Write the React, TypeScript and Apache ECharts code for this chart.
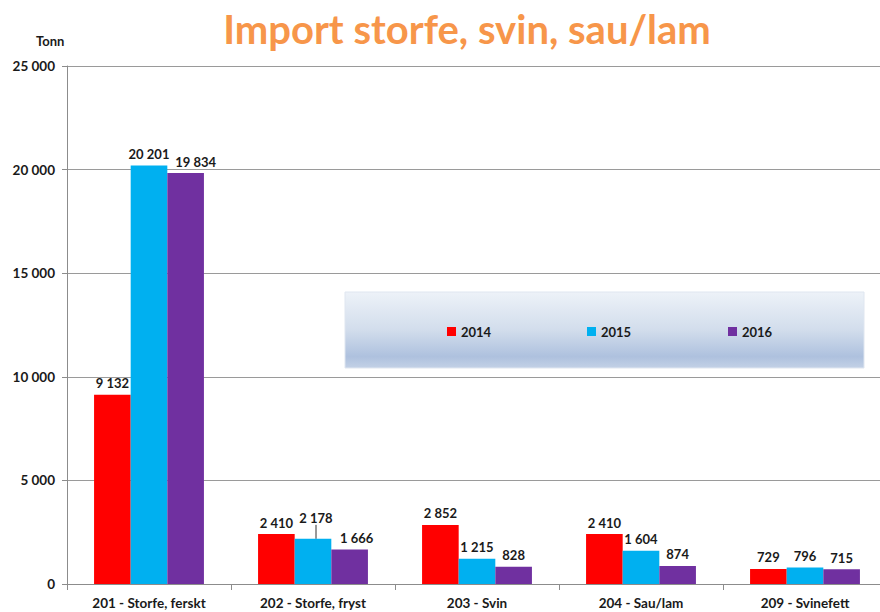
import React, { useEffect, useRef } from "react";
import * as echarts from "echarts";

const categories = [
  "201 - Storfe, ferskt",
  "202 - Storfe, fryst",
  "203 - Svin",
  "204 - Sau/lam",
  "209 - Svinefett",
];
const years = ["2014", "2015", "2016"];
const values2014 = [9132, 2410, 2852, 2410, 729];
const values2015 = [20201, 2178, 1215, 1604, 796];
const values2016 = [19834, 1666, 828, 874, 715];
const colors = ["#FF0000", "#00B0F0", "#7030A0"];
const yTicks = { min: 0, max: 25000, interval: 5000 };

const FONT = "Lato, 'Open Sans', sans-serif";

function fmt(v: number): string {
  const s = String(Math.round(v));
  return s.replace(/\B(?=(\d{3})+(?!\d))/g, " ");
}

export default function App() {
  const ref = useRef<HTMLDivElement>(null);
  useEffect(() => {
    document.body.style.overflow = "hidden";
    if (!ref.current) return;
    const chart = echarts.init(ref.current, null, { renderer: "svg" });
    const seriesData = [values2014, values2015, values2016];
    const labelStyle = {
      show: true,
      position: "top" as const,
      distance: 5,
      color: "#1a1a1a",
      fontFamily: FONT,
      fontWeight: "bold" as const,
      fontSize: 13,
      formatter: (p: any) => fmt(p.value),
    };
    const legendX = [442, 582, 723];
    const layouts: any[] = [
      null,
      (p: any) => (p.dataIndex === 1 ? { dx: 3, dy: -9 } : {}),
      (p: any) =>
        p.dataIndex === 0 ? { dx: 10 } : p.dataIndex === 1 ? { dx: 7 } : {},
    ];
    chart.setOption({
      animation: false,
      backgroundColor: "#ffffff",
      title: {
        text: "Import storfe, svin, sau/lam",
        left: 462,
        textAlign: "center",
        top: 4,
        textStyle: {
          color: "#F7964A",
          fontFamily: FONT,
          fontWeight: "bold",
          fontSize: 40,
        },
      },
      graphic: [
        {
          type: "rect",
          z: 0,
          shape: { x: 345, y: 292, width: 519, height: 76 },
          style: {
            fill: new echarts.graphic.LinearGradient(0, 0, 0, 1, [
              { offset: 0, color: "#edf2f8" },
              { offset: 0.5, color: "#d2ddec" },
              { offset: 0.85, color: "#aec1de" },
              { offset: 1, color: "#c3d1e6" },
            ]),
            stroke: "#dfe6f0",
            lineWidth: 1,
          },
        },
        {
          type: "text",
          left: 36,
          top: 34,
          style: {
            text: "Tonn",
            fill: "#1a1a1a",
            font: `bold 13px ${FONT}`,
          },
        },
      ],
      legend: years.map((y, i) => ({
        data: [y],
        left: legendX[i],
        top: 320,
        itemWidth: 9,
        itemHeight: 9,
        itemGap: 0,
        icon: "rect",
        textStyle: {
          color: "#1a1a1a",
          fontFamily: FONT,
          fontWeight: "bold",
          fontSize: 13,
        },
        z: 10,
      })),
      grid: { left: 67, top: 66, bottom: 28, width: 820, containLabel: false },
      xAxis: {
        type: "category",
        data: categories,
        axisLine: { lineStyle: { color: "#8c8c8c", width: 1 } },
        axisTick: { show: true, length: 6, lineStyle: { color: "#8c8c8c" } },
        axisLabel: {
          color: "#1a1a1a",
          fontFamily: FONT,
          fontWeight: "bold",
          fontSize: 13.5,
          margin: 12,
        },
      },
      yAxis: {
        type: "value",
        min: yTicks.min,
        max: yTicks.max,
        interval: yTicks.interval,
        axisLine: { show: true, lineStyle: { color: "#8c8c8c" } },
        axisTick: { show: true, length: 5, lineStyle: { color: "#8c8c8c" } },
        splitLine: { lineStyle: { color: "#9a9a9a", width: 1 } },
        axisLabel: {
          color: "#1a1a1a",
          fontFamily: FONT,
          fontWeight: "bold",
          fontSize: 13.5,
          margin: 12,
          formatter: (v: number) => fmt(v),
        },
      },
      series: years.map((y, i) => ({
        name: y,
        type: "bar",
        barGap: "0%",
        barCategoryGap: "33%",
        itemStyle: { color: colors[i] },
        label: labelStyle,
        labelLine: { show: false, lineStyle: { color: "#333", width: 1 } },
        labelLayout: layouts[i] || undefined,
        data: seriesData[i].map((v, j) =>
          i === 1 && j === 1
            ? { value: v, labelLine: { show: true, length2: 0 } }
            : v
        ),
        z: 2,
      })),
    });
    return () => chart.dispose();
  }, []);
  return (
    <div
      ref={ref}
      style={{ position: "fixed", left: 0, top: 0, width: 890, height: 612 }}
    />
  );
}
